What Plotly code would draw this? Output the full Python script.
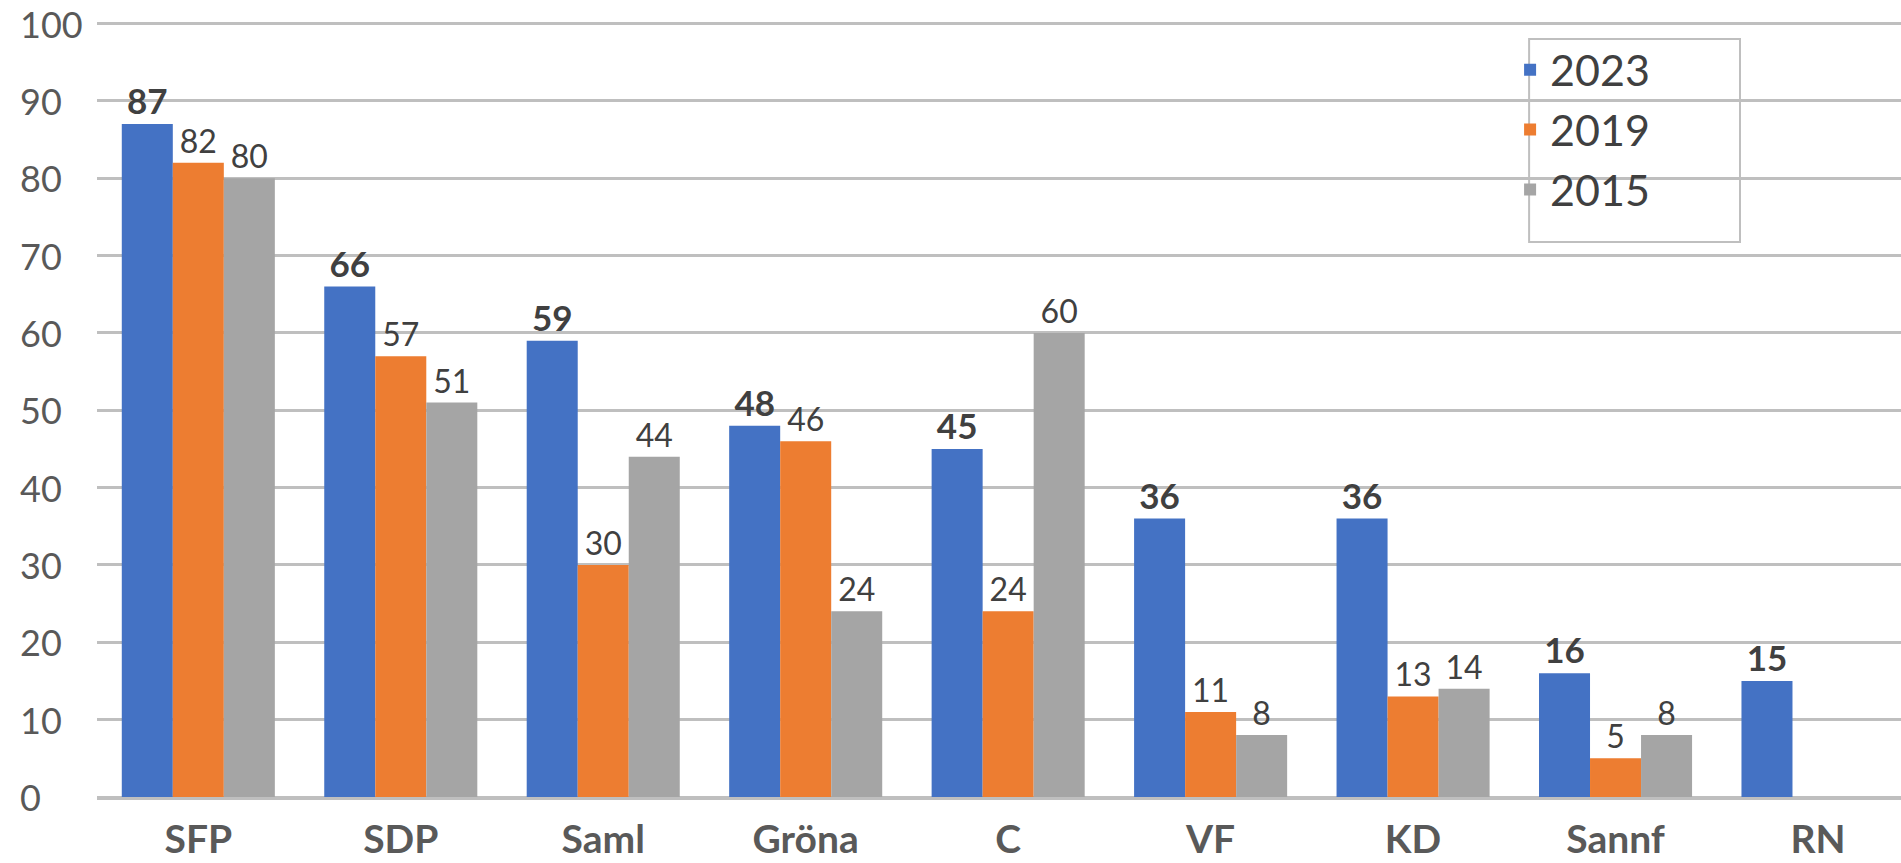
import plotly.graph_objects as go

categories = ["SFP", "SDP", "Saml", "Gröna", "C", "VF", "KD", "Sannf", "RN"]
series_names = ["2023", "2019", "2015"]
values_2023 = [87, 66, 59, 48, 45, 36, 36, 16, 15]
values_2019 = [82, 57, 30, 46, 24, 11, 13, 5, None]
values_2015 = [80, 51, 44, 24, 60, 8, 14, 8, None]
y_ticks = [0, 10, 20, 30, 40, 50, 60, 70, 80, 90, 100]

colors = ["#4472C4", "#ED7D31", "#A5A5A5"]
FONT = "Lato"
GRID = "#BFBFBF"
Y_RANGE = [0, 100.2]

fig = go.Figure()
for i, (name, vals) in enumerate(zip(series_names, [values_2023, values_2019, values_2015])):
    bold = i == 0
    fig.add_trace(go.Bar(
        name=name,
        x=categories,
        y=vals,
        marker=dict(color=colors[i], line=dict(width=0)),
        text=[("<b>%d</b>" % v if bold else "%d" % v) if v is not None else "" for v in vals],
        textposition="outside",
        cliponaxis=False,
        textfont=dict(family=FONT, size=35 if bold else 32, color="#404040"),
        legendgroup=name,
    ))

# legend frame
fig.add_shape(type="rect", xref="paper", yref="paper",
              x0=0.8025, x1=0.9145, y0=0.7161, y1=0.978,
              line=dict(color=GRID, width=2), fillcolor="white", layer="below")

# left-aligned y tick labels, placed through the y axis scale
for v in y_ticks:
    fig.add_annotation(x=0, xref="paper", y=v, yref="y", text=str(v),
                       xanchor="left", yanchor="middle", showarrow=False,
                       font=dict(family=FONT, size=36, color="#595959"))

fig.update_layout(
    width=1901,
    height=863,
    margin=dict(l=18, r=0, t=22, b=66),
    paper_bgcolor="white",
    plot_bgcolor="white",
    barmode="group",
    bargap=0.244,
    bargroupgap=0,
    font=dict(family=FONT, color="#595959"),
    showlegend=True,
    legend=dict(
        x=0.7924, y=0.983, xanchor="left", yanchor="top",
        bgcolor="rgba(0,0,0,0)", borderwidth=0,
        font=dict(family=FONT, size=43, color="#404040"),
        itemwidth=30,
        tracegroupgap=1,
    ),
    xaxis=dict(
        domain=[0.042, 1],
        range=[-0.5, 8.41],
        showgrid=False,
        showline=True, linecolor=GRID, linewidth=3,
        tickfont=dict(family=FONT, size=39, color="#595959", weight="bold"),
        ticks="",
        ticklabelstandoff=6,
        automargin=False,
    ),
    yaxis=dict(
        range=Y_RANGE,
        tickvals=y_ticks,
        showgrid=True, gridcolor=GRID, gridwidth=3,
        zeroline=True, zerolinecolor=GRID, zerolinewidth=3,
        showticklabels=False,
        ticks="",
    ),
)

fig.write_html("out.html", config={"displayModeBar": False},
               post_script="document.body.style.margin='0';document.body.style.overflow='hidden';")
